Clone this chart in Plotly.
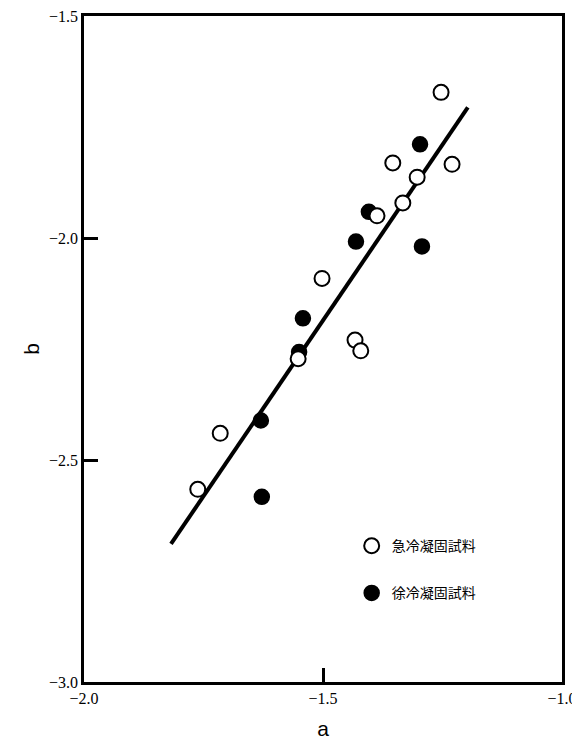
import plotly.graph_objects as go

# 急冷凝固試料 (open circles)
rapid_a = [-1.253, -1.354, -1.230, -1.303, -1.333, -1.387, -1.502, -1.433, -1.421, -1.552, -1.715, -1.762]
rapid_b = [-1.672, -1.831, -1.834, -1.863, -1.921, -1.950, -2.091, -2.230, -2.254, -2.272, -2.440, -2.566]

# 徐冷凝固試料 (filled circles)
slow_a = [-1.297, -1.404, -1.431, -1.293, -1.542, -1.550, -1.630, -1.628]
slow_b = [-1.789, -1.941, -2.008, -2.019, -2.181, -2.257, -2.411, -2.583]

# fitted line end points
line_a = [-1.818, -1.197]
line_b = [-2.689, -1.706]

x_ticks = [-2.0, -1.5, -1.0]
x_labels = ["\u22122.0", "\u22121.5", "\u22121.0"]
y_ticks = [-1.5, -2.0, -2.5, -3.0]
y_labels = ["\u22121.5", "\u22122.0", "\u22122.5", "\u22123.0"]

fig = go.Figure()
fig.add_trace(go.Scatter(x=line_a, y=line_b, mode="lines",
                         line=dict(color="black", width=4), showlegend=False, hoverinfo="skip"))
fig.add_trace(go.Scatter(x=slow_a, y=slow_b, mode="markers", name="徐冷凝固試料",
                         legendgroup="g2", legendrank=2,
                         marker=dict(symbol="circle", size=15, color="black",
                                     line=dict(color="black", width=1.5))))
fig.add_trace(go.Scatter(x=rapid_a, y=rapid_b, mode="markers", name="急冷凝固試料",
                         legendgroup="g1", legendrank=1,
                         marker=dict(symbol="circle", size=15, color="white",
                                     line=dict(color="black", width=2))))

axis_common = dict(showline=True, linecolor="black", linewidth=2.5, mirror=True,
                   showgrid=False, zeroline=False, ticks="inside", ticklen=14,
                   tickwidth=2.5, tickcolor="black", automargin=False,
                   ticklabeloverflow="allow",
                   tickfont=dict(family="Liberation Serif", size=16, color="black"))

fig.update_xaxes(range=[-2.0, -1.0], tickvals=x_ticks, ticktext=x_labels,
                 title=dict(text="a", font=dict(family="Liberation Sans", size=21, color="black"),
                            standoff=16),
                 **axis_common)
fig.update_yaxes(range=[-3.0, -1.5], tickvals=y_ticks, ticktext=y_labels,
                 title=dict(text="b", font=dict(family="Liberation Sans", size=21, color="black"),
                            standoff=4),
                 **axis_common)

fig.update_layout(
    width=580, height=741,
    margin=dict(l=76, r=26, t=8, b=67),
    paper_bgcolor="white", plot_bgcolor="white",
    showlegend=True,
    legend=dict(x=0.56, y=0.228, xanchor="left", yanchor="top",
                font=dict(family="Noto Sans CJK JP", size=14, color="black"),
                bgcolor="rgba(0,0,0,0)", tracegroupgap=26, itemsizing="trace"),
)

fig.write_html("out.html")
